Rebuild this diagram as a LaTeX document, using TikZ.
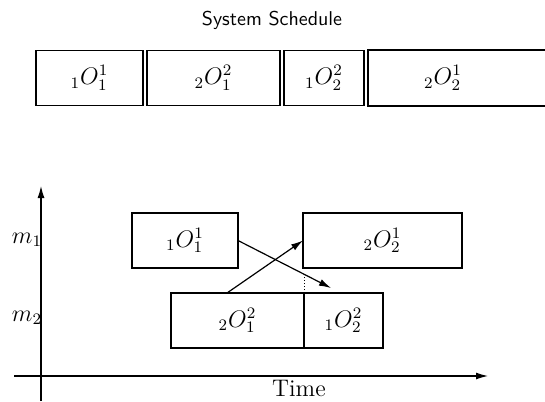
\documentclass[tikz,border=0pt]{standalone}
\usepackage{amsfonts,amsmath,amssymb}
\usepackage{tikz}
\usetikzlibrary{arrows.meta}

\begin{document}
\begin{tikzpicture}[x=0.5pt,y=-0.5pt,line width=0.6pt,
  >={Latex[length=6pt,width=3.5pt]},
  job/.style={draw,font=\large,inner sep=0pt,outer sep=0pt,minimum height=27.5pt}]
\useasboundingbox (0,0) rectangle (545,401);

% system schedule
\node[font=\sffamily] (title) at (272,20) {System Schedule};
\node[job,minimum width=53.5pt] (s1) at (89.5,78) {${}_1O_1^1$};
\node[job,minimum width=66.5pt] (s2) at (213.5,78) {${}_2O_1^2$};
\node[job,minimum width=40pt] (s3) at (324,78) {${}_1O_2^2$};
\node[font=\large] (s4) at (443,78) {${}_2O_2^1$};
\draw (545,50)--(368,50)--(368,106)--(545,106);

% axes
\coordinate (origin) at (41,376);
\coordinate (xend) at (488,376);
\coordinate (xstart) at (14,376);
\coordinate (yend) at (41,186);
\coordinate (ystart) at (41,401);
\draw[->] (xstart)--(xend);
\draw[->] (ystart)--(yend);
\node[font=\large] (time) at (299,388) {Time};
\node[font=\large] (m1) at (27,240) {$m_1$};
\node[font=\large] (m2) at (27,318) {$m_2$};

% machine schedules
\node[job,minimum width=53pt] (a) at (185,240.5) {${}_1O_1^1$};
\node[job,minimum width=79.5pt] (b) at (382.5,240.5) {${}_2O_2^1$};
\node[job,minimum width=66.5pt] (c) at (237.5,320.5) {${}_2O_1^2$};
\node[job,minimum width=39.5pt,anchor=west] (d) at (c.east) {${}_1O_2^2$};

\coordinate (late) at (331,288);
\draw[->] (a.east)--(late);
\draw[->] ([xshift=-5.25pt]c.north)--(b.west);
\draw[densely dotted,line width=0.5pt] (d.north west)--++(0,-18);

\end{tikzpicture}
\end{document}
